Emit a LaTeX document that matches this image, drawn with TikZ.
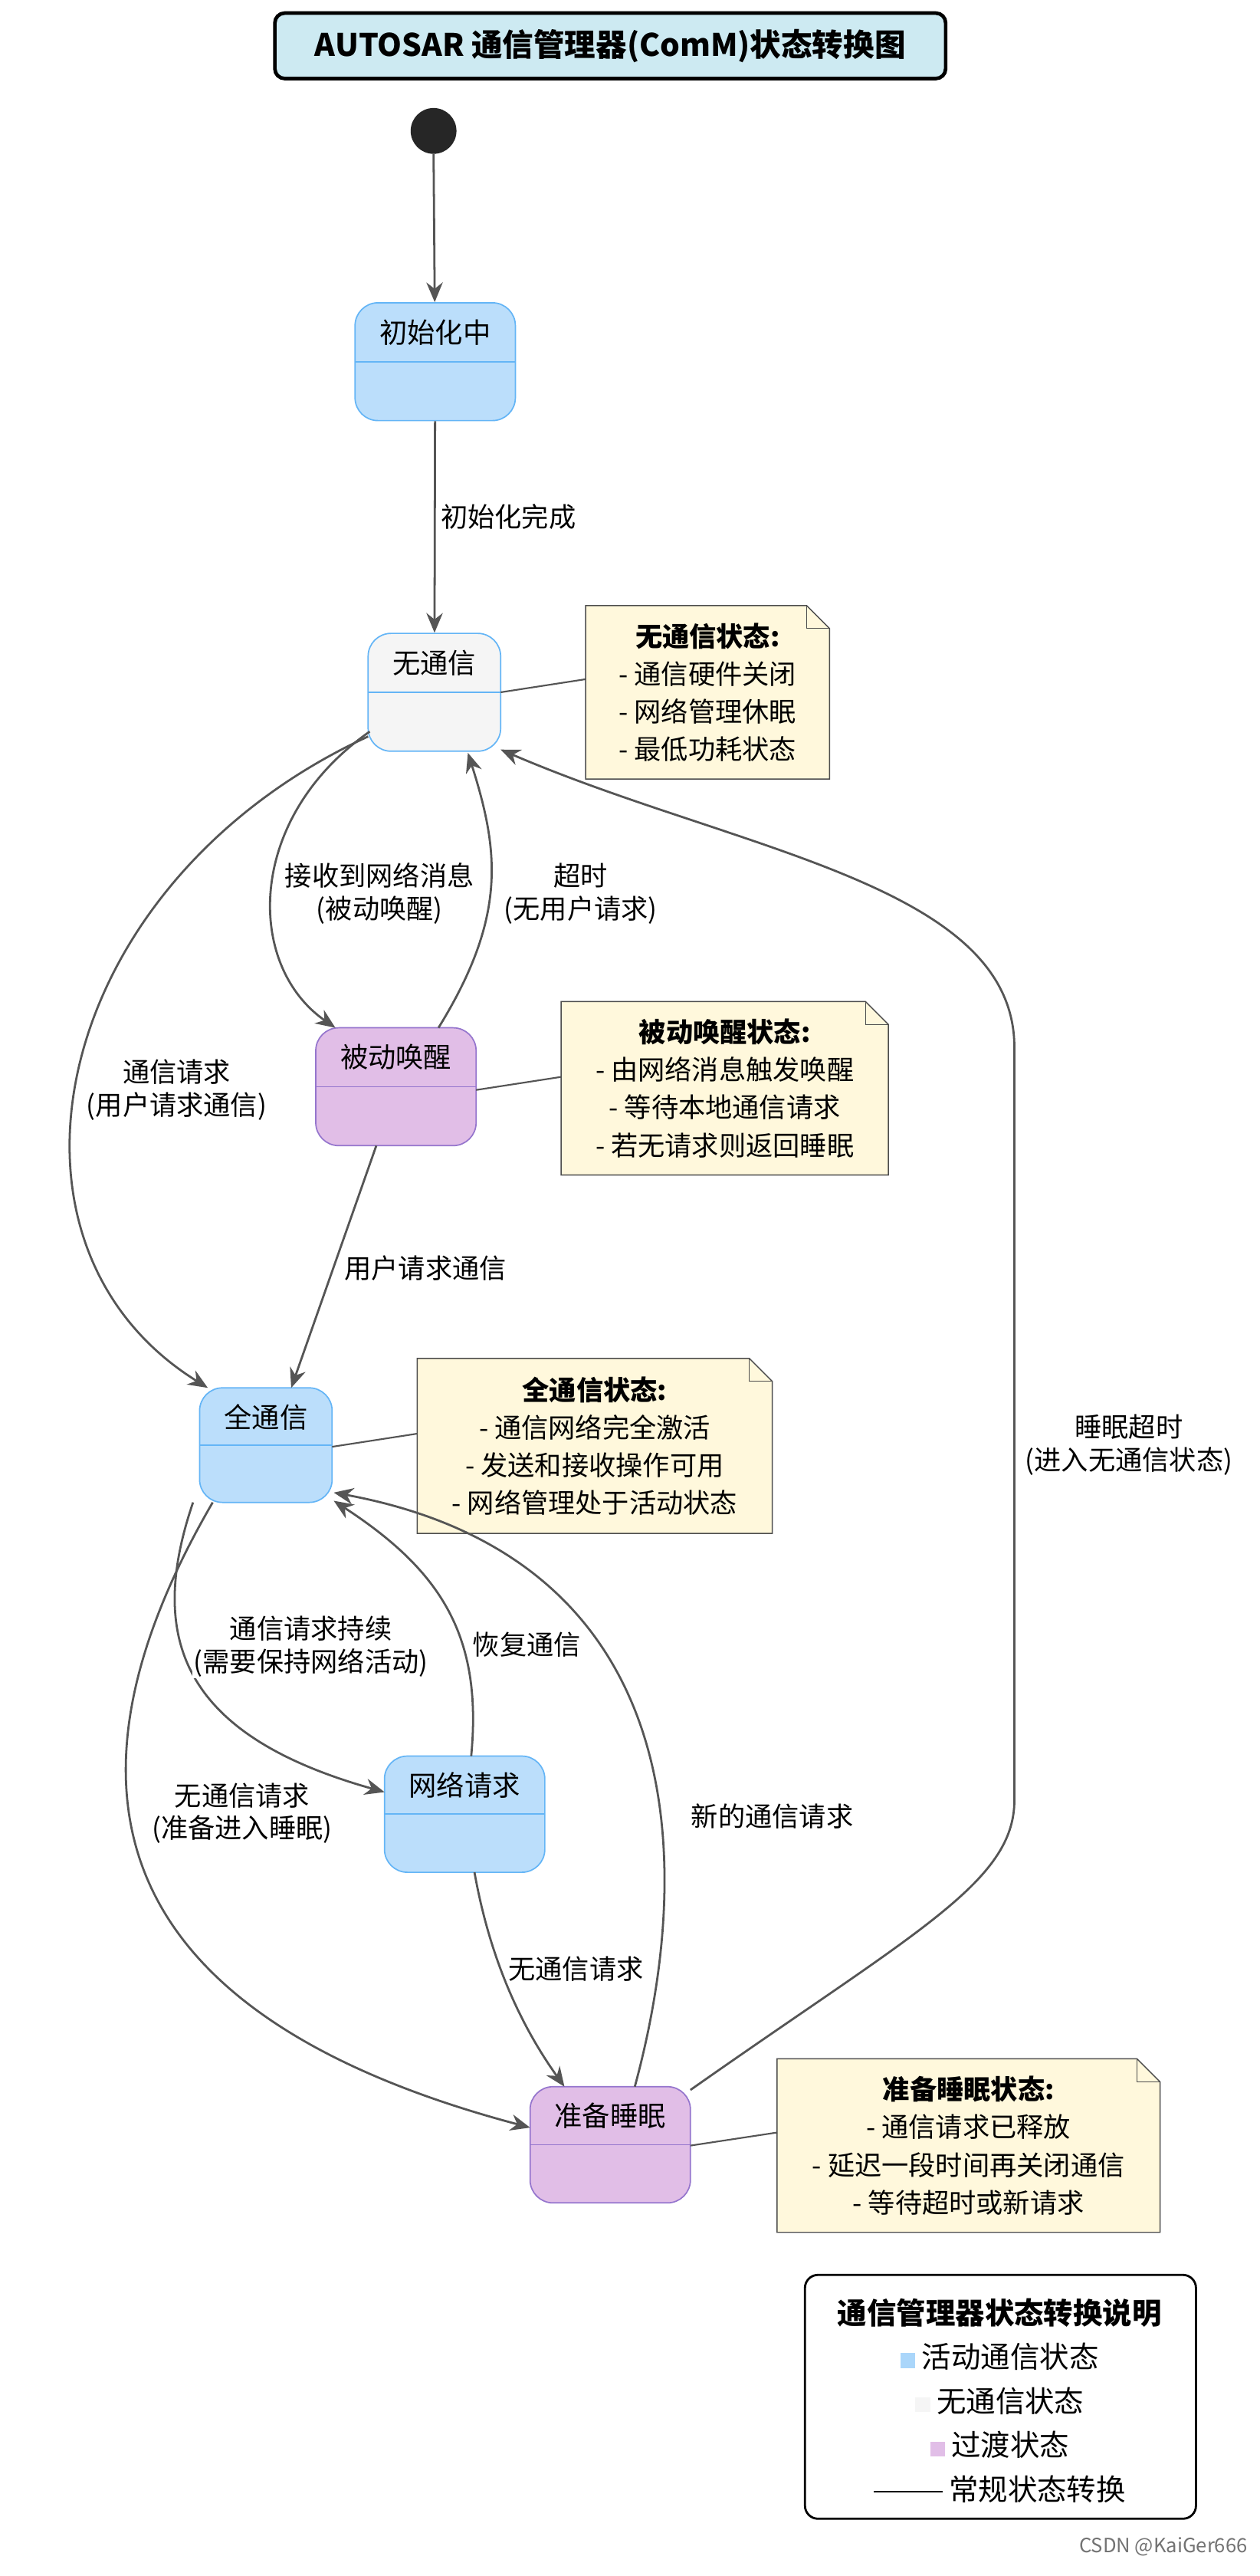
\documentclass[tikz,border=0pt]{standalone}
\usepackage{fontspec}
\setmainfont{Noto Sans CJK SC}
\usetikzlibrary{arrows.meta,calc}
\definecolor{edge}{HTML}{555555}
\definecolor{actf}{HTML}{BBDEFB}
\definecolor{actd}{HTML}{64B5F6}
\definecolor{nof}{HTML}{F5F5F5}
\definecolor{trf}{HTML}{E1BEE7}
\definecolor{trd}{HTML}{9575CD}
\definecolor{notef}{HTML}{FFF8DC}
\definecolor{titf}{HTML}{CDEAF2}
\tikzset{
 x=1pt,y=-1pt,
 stbox/.style={draw,rounded corners=14pt,line width=0.8pt,inner sep=0pt},
 conn/.style={draw=edge,line width=1.3pt,-{Stealth[length=12pt,width=10pt]}},
 lbl/.style={font=\fontsize{16.5}{20}\selectfont,align=center,inner sep=1pt},
 notebox/.style={fill=notef,draw=black!70,line width=0.7pt},
 notetxt/.style={font=\fontsize{16.5}{23}\selectfont,align=center},
 nline/.style={draw=edge,line width=1pt},
}
\begin{document}
\begin{tikzpicture}
\useasboundingbox (0,0) rectangle (770,1574);
\fill[white] (0,0) rectangle (770,1574);
% title
\node[draw,line width=2.2pt,fill=titf,rounded corners=6pt,minimum width=410pt,minimum height=40pt,font=\fontsize{19}{22}\selectfont\bfseries] (title) at (373,28) {AUTOSAR 通信管理器(ComM)状态转换图};
% start
\fill[black!85] (265,80) circle (14pt);
\coordinate (st) at (265,94);
% states
\newcommand{\state}[8]{%
 \node[stbox,fill=#6,draw=#7,minimum width=#4pt-#2pt,minimum height=#5pt-#3pt] (#1) at ({(#2+#4)/2},{(#3+#5)/2}) {};
 \draw[#7,line width=0.8pt] (#2,{(#3+#5)/2}) -- (#4,{(#3+#5)/2});
 \node[lbl,font=\fontsize{17}{20}\selectfont] at ({(#2+#4)/2},{#3+18}) {#8};}
\state{init}{217}{185}{315}{257}{actf}{actd}{初始化中}
\state{nocom}{225}{387}{306}{459}{nof}{actd}{无通信}
\state{pw}{193}{628}{291}{700}{trf}{trd}{被动唤醒}
\state{full}{122}{848}{203}{918}{actf}{actd}{全通信}
\state{nr}{235}{1073}{333}{1144}{actf}{actd}{网络请求}
\state{ps}{324}{1275}{422}{1346}{trf}{trd}{准备睡眠}
% notes
\newcommand{\note}[6]{%
 \path[notebox] (#2,#3) -- (#4-14,#3) -- (#4,#3+14) -- (#4,#5) -- (#2,#5) -- cycle;
 \draw[black!70,line width=0.7pt] (#4-14,#3) -- (#4-14,#3+14) -- (#4,#3+14);
 \node[notetxt,minimum width=#4pt-#2pt,minimum height=#5pt-#3pt] (#1) at ({(#2+#4)/2},{(#3+#5)/2}) {#6};}
\note{n1}{358}{370}{507}{476}{\textbf{无通信状态:}\\ - 通信硬件关闭\\ - 网络管理休眠\\ - 最低功耗状态}
\note{n2}{343}{612}{543}{718}{\textbf{被动唤醒状态:}\\ - 由网络消息触发唤醒\\ - 等待本地通信请求\\ - 若无请求则返回睡眠}
\note{n3}{255}{830}{472}{937}{\textbf{全通信状态:}\\ - 通信网络完全激活\\ - 发送和接收操作可用\\ - 网络管理处于活动状态}
\note{n4}{475}{1258}{709}{1364}{\textbf{准备睡眠状态:}\\ - 通信请求已释放\\ - 延迟一段时间再关闭通信\\ - 等待超时或新请求}
\draw[nline] (358,415) -- (306,423);
\draw[nline] (343,658) -- (291,666);
\draw[nline] (255,876) -- (203,884);
\draw[nline] (475,1303) -- (422,1311);
% edges
\draw[conn] (st) -- (init);
\draw[conn] (init) -- node[lbl,right=2pt,pos=0.45]{初始化完成} (nocom);
\draw[conn] (226,447) .. controls (150,500) and (150,590) .. (205,628);
\node[lbl] at (232,546) {接收到网络消息\\(被动唤醒)};
\draw[conn] (268,628) .. controls (310,560) and (305,520) .. (286,460);
\node[lbl] at (355,546) {超时\\(无用户请求)};
\draw[conn] (225,450) .. controls (30,540) and (-15,760) .. (127,848);
\node[lbl,fill=white] at (108,666) {通信请求\\(用户请求通信)};
\draw[conn] (230,700) -- (178,848);
\node[lbl] at (260,775) {用户请求通信};
\draw[conn] (118,918) .. controls (90,1000) and (110,1060) .. (235,1095);
\node[lbl,fill=white] at (190,1006) {通信请求持续\\(需要保持网络活动)};
\draw[conn] (288,1073) .. controls (295,1000) and (270,960) .. (204,917);
\node[lbl,fill=white] at (322,1005) {恢复通信};
\draw[conn] (130,918) .. controls (30,1090) and (60,1230) .. (324,1300);
\node[lbl,fill=white] at (148,1108) {无通信请求\\(准备进入睡眠)};
\draw[conn] (290,1144) .. controls (300,1200) and (320,1240) .. (345,1275);
\node[lbl,fill=white] at (352,1203) {无通信请求};
\draw[conn] (388,1275) .. controls (430,1120) and (410,950) .. (204,912);
\node[lbl,fill=white] at (472,1110) {新的通信请求};
\draw[conn] (422,1277) .. controls (560,1180) and (620,1150) .. (620,1100) -- (620,640) .. controls (620,540) and (450,520) .. (306,458);
\node[lbl,fill=white] at (690,883) {睡眠超时\\(进入无通信状态)};
% legend
\node[draw,line width=1.3pt,rounded corners=8pt,minimum width=239pt,minimum height=149pt] (leg) at (611.5,1464.5) {};
\node[font=\fontsize{18}{20}\selectfont\bfseries] at (611,1413) {通信管理器状态转换说明};
\node[lbl,font=\fontsize{18}{20}\selectfont] at (611,1440) {{\color{actf!80!actd}\rule{9pt}{9pt}} 活动通信状态};
\node[lbl,font=\fontsize{18}{20}\selectfont] at (611,1467) {{\color{nof}\rule{9pt}{9pt}} 无通信状态};
\node[lbl,font=\fontsize{18}{20}\selectfont] at (611,1494) {{\color{trf}\rule{9pt}{9pt}} 过渡状态};
\node[lbl,font=\fontsize{18}{20}\selectfont] at (611,1521) {\rule[5pt]{42pt}{0.8pt} 常规状态转换};
\node[font=\fontsize{12}{13}\selectfont,text=black!55,anchor=east] at (766,1556) {CSDN @KaiGer666};
\end{tikzpicture}
\end{document}
